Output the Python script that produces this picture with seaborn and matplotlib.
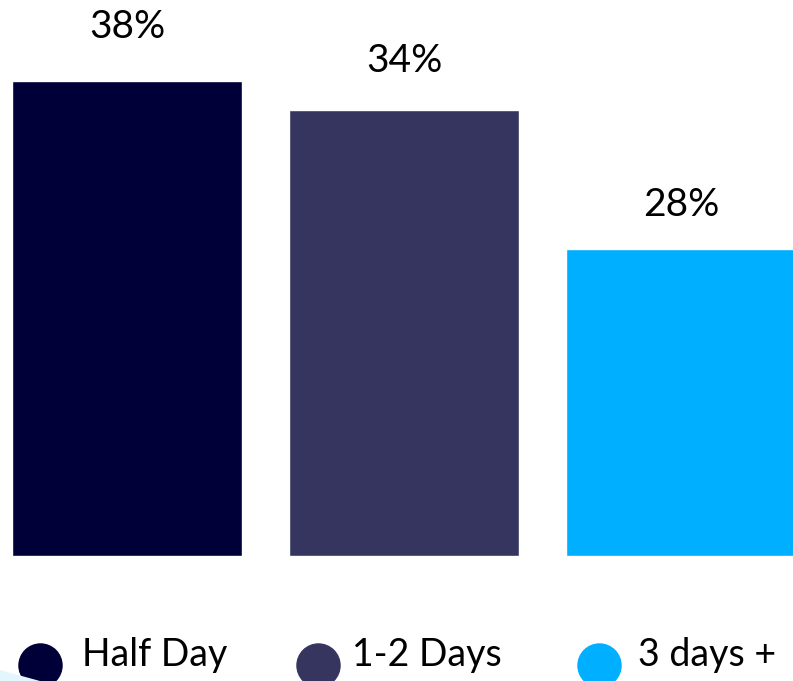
import matplotlib
matplotlib.use("Agg")
import matplotlib.pyplot as plt
import matplotlib.patches as mpatches
import seaborn as sns
import pandas as pd

# data
categories = ["Half Day", "1-2 Days", "3 days +"]
shares = [38, 34, 28]                 # printed labels (%)
bar_heights = [38.0, 35.7, 24.6]      # drawn bar lengths, as measured
colors = ["#000038", "#35355F", "#00AFFF"]

# gap between bar top and label centre (data units)
label_gap = [4.35, 3.9, 3.45]

df = pd.DataFrame({"cat": categories, "h": bar_heights})

sns.set_theme(style="white")
plt.rcParams["font.family"] = ["Lato", "DejaVu Sans"]

fig = plt.figure(figsize=(7.93, 6.81), dpi=100)
ax = fig.add_axes([0, 0, 1, 1])

sns.barplot(data=df, x="cat", y="h", hue="cat", palette=colors,
            width=0.83, saturation=1, legend=False, ax=ax)

# percentage labels above the bars
for i, (h, s) in enumerate(zip(bar_heights, shares)):
    ax.text(i, h + label_gap[i], f"{s}%", ha="center", va="center",
            fontsize=28, color="black")

ax.set_xlim(-0.4585, 2.404)
ax.set_ylim(-10, 44.48)
ax.axis("off")

# faint decorative swoosh in the bottom-left corner
swoosh = mpatches.Polygon([[0, 11 / 681], [0, 0], [40 / 793, 0]],
                          closed=True, color="#E3F5FD", lw=0,
                          transform=fig.transFigure, zorder=0)
fig.patches.append(swoosh)

# legend: dots + labels along the bottom
dot_x = [40, 318, 599]
txt_x = [82, 352, 638]
for i, cat in enumerate(categories):
    ax.plot([dot_x[i] / 793], [1 - 665 / 681], "o", color=colors[i], ms=31,
            transform=fig.transFigure, clip_on=False)
    fig.text(txt_x[i] / 793, 1 - 655 / 681, cat, ha="left", va="center",
             fontsize=27, color="black")

fig.savefig("out.png", dpi=100)
